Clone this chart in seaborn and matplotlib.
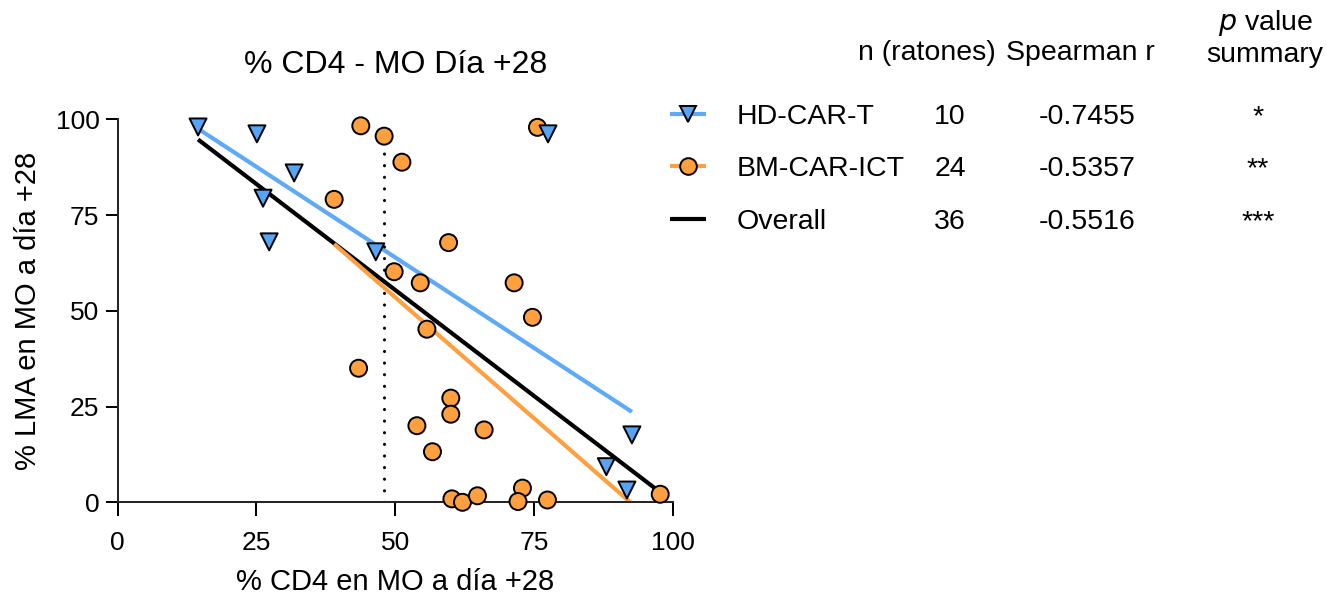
import numpy as np
import pandas as pd
import matplotlib
matplotlib.use("Agg")
import matplotlib.pyplot as plt
from matplotlib.lines import Line2D
import seaborn as sns

# % CD4 and % LMA in bone marrow at day +28, per mouse
hd_cd4 = [14.5, 25.1, 26.2, 27.3, 31.8, 46.5, 77.5, 92.6, 88.0, 91.7]
hd_lma = [98.0, 96.2, 79.4, 68.0, 86.0, 65.4, 96.2, 17.6, 9.3, 3.2]
bm_cd4 = [43.8, 48.0, 51.2, 39.0, 49.8, 75.6, 59.6, 54.5, 71.4, 74.7, 55.7, 60.0,
          60.0, 53.9, 66.0, 56.7, 60.2, 62.1, 64.8, 72.9, 72.1, 77.4, 97.7, 43.4]
bm_lma = [98.3, 95.6, 88.8, 79.1, 60.2, 97.9, 67.8, 57.3, 57.3, 48.3, 45.2, 27.2,
          23.0, 20.0, 18.9, 13.2, 0.9, 0.0, 1.7, 3.7, 0.2, 0.6, 2.1, 35.0]

groups = ["HD-CAR-T", "BM-CAR-ICT"]
row_labels = ["HD-CAR-T", "BM-CAR-ICT", "Overall"]
n_mice = ["10", "24", "36"]
spearman_r = ["-0.7455", "-0.5357", "-0.5516"]
p_summary = ["*", "**", "***"]
cd4_cutoff = 48
axis_ticks = [0, 25, 50, 75, 100]

df = pd.DataFrame({
    "cd4": bm_cd4 + hd_cd4,
    "lma": bm_lma + hd_lma,
    "group": ["BM-CAR-ICT"] * len(bm_cd4) + ["HD-CAR-T"] * len(hd_cd4),
})

sns.set_theme(style="ticks")
plt.rcParams["font.family"] = ["Liberation Sans", "DejaVu Sans"]
plt.rcParams["text.color"] = "black"
plt.rcParams["axes.labelcolor"] = "black"

W, H = 1327, 599
fig = plt.figure(figsize=(W / 100, H / 100), dpi=100)
ax = fig.add_axes([117.5 / W, 1 - 502.3 / H, (673 - 117.5) / W, (502.3 - 119.3) / H])

point_colors = {"HD-CAR-T": "#56A4F5", "BM-CAR-ICT": "#FFA03E"}
line_colors = {"HD-CAR-T": "#5EAAF7", "BM-CAR-ICT": "#FFA040", "Overall": "black"}
markers = {"HD-CAR-T": "v", "BM-CAR-ICT": "o"}
fit_lw = 3.0

# Linear fits: overall, then each group
sns.regplot(data=df, x="cd4", y="lma", scatter=False, ci=None, truncate=True,
            color=line_colors["Overall"], line_kws=dict(lw=fit_lw, solid_capstyle="butt"), ax=ax)
for g in ["HD-CAR-T", "BM-CAR-ICT"]:
    sns.regplot(data=df[df.group == g], x="cd4", y="lma", scatter=False, ci=None,
                truncate=True, color=line_colors[g],
                line_kws=dict(lw=fit_lw, solid_capstyle="butt"), ax=ax)

# CD4 threshold
cut = ax.vlines(cd4_cutoff, 0, 100, colors="black", linewidth=2.2,
                linestyles=[(0, (0.05, 3.75))])
cut.set_capstyle("round")

sns.scatterplot(data=df, x="cd4", y="lma", hue="group", style="group",
                palette=point_colors, markers=markers, s=150, edgecolor="black",
                linewidth=1.4, clip_on=False, legend=False, ax=ax, zorder=5)

ax.set_xlim(0, 100)
ax.set_ylim(0, 100)
ax.set_xticks(axis_ticks)
ax.set_yticks(axis_ticks)
sns.despine(ax=ax)
for sp in ["left", "bottom"]:
    ax.spines[sp].set_linewidth(1.45)
ax.tick_params(direction="out", length=9, width=1.45, labelsize=19, colors="black")
ax.tick_params(axis="x", pad=11, length=10)
ax.tick_params(axis="y", pad=4)
ax.set_xlabel("% CD4 en MO a día +28", fontsize=21, labelpad=9)
ax.set_ylabel("% LMA en MO a día +28", fontsize=21, labelpad=10)
ax.set_title("% CD4 - MO Día +28", fontsize=23, pad=33)

# Statistics table beside the plot
def fx(px):
    return px / W

def fy(py):
    return 1 - py / H

txt = dict(fontsize=20.5, color="black")
fig.text(fx(927), fy(60), "n (ratones)", ha="center", va="baseline", **txt)
fig.text(fx(1080), fy(60), "Spearman r", ha="center", va="baseline", **txt)
fig.text(fx(1265), fy(30), r"$\it{p}$ value", ha="center", va="baseline", **txt)
fig.text(fx(1265), fy(62), "summary", ha="center", va="baseline", **txt)

row_base = [124, 176, 229]
for i, lab in enumerate(row_labels):
    yb = row_base[i]
    yc = yb - 10
    fig.add_artist(Line2D([fx(670), fx(706)], [fy(yc), fy(yc)], transform=fig.transFigure,
                          color=line_colors[lab], lw=fit_lw, solid_capstyle="butt"))
    if lab in markers:
        fig.add_artist(Line2D([fx(688)], [fy(yc)], transform=fig.transFigure,
                              marker=markers[lab], markersize=12, markerfacecolor=point_colors[lab],
                              markeredgecolor="black", markeredgewidth=1.4, linestyle="none"))
    fig.text(fx(737), fy(yb), lab, ha="left", va="baseline", **txt)
    fig.text(fx(950), fy(yb), n_mice[i], ha="center", va="baseline", **txt)
    fig.text(fx(1087), fy(yb), spearman_r[i], ha="center", va="baseline", **txt)
    fig.text(fx(1258), fy(yb), p_summary[i], ha="center", va="baseline", **txt)

fig.savefig("out.png", dpi=100)
